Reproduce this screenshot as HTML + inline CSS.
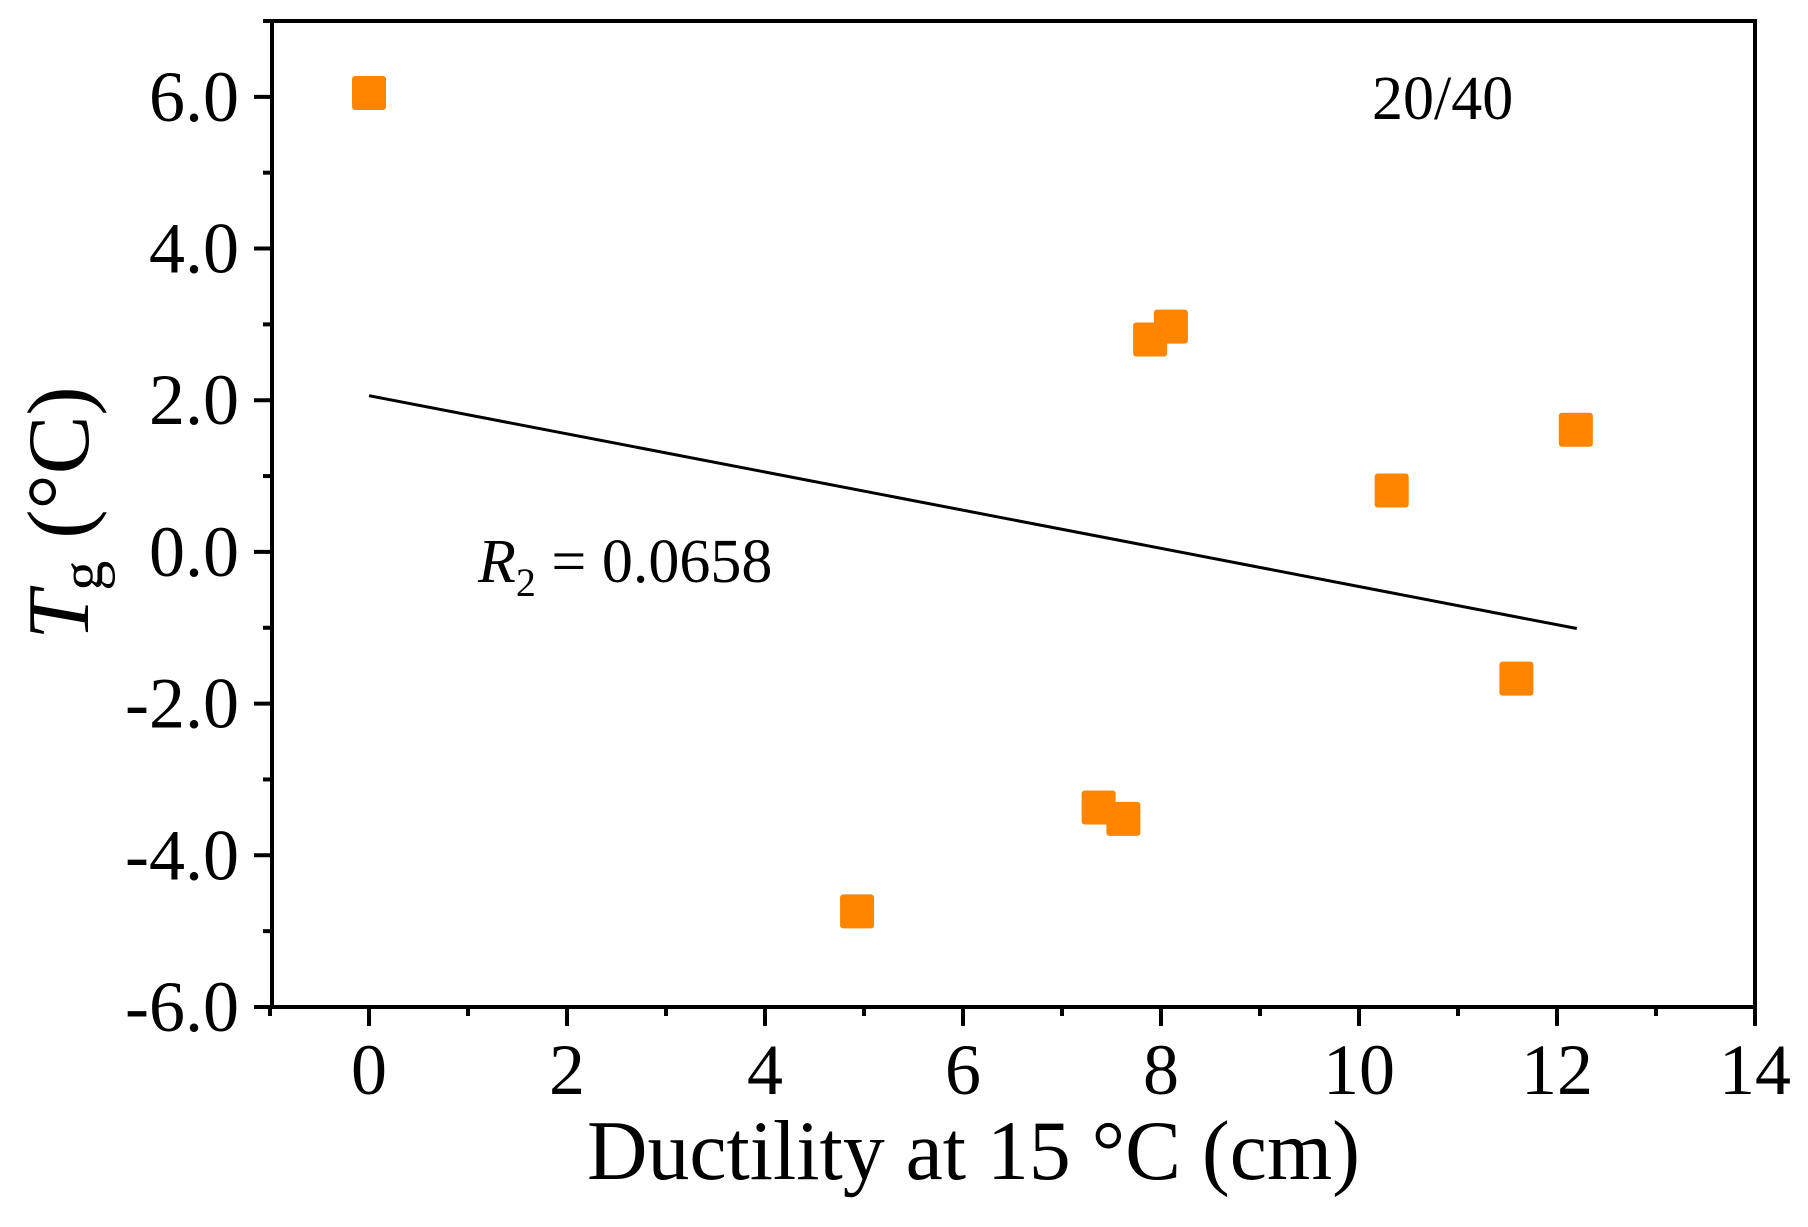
<!DOCTYPE html>
<html><head><meta charset="utf-8"><style>
html,body{margin:0;padding:0;background:#fff;}
svg text{font-family:"Liberation Serif",serif;fill:#000;}
</style></head><body>
<svg id="chart" width="1808" height="1222" viewBox="0 0 1808 1222" xmlns="http://www.w3.org/2000/svg">
<g id="marks"></g>
<g id="axes"></g>
<text x="1372" y="119" font-size="62">20/40</text>
<text x="478" y="582" font-size="62"><tspan font-style="italic">R</tspan><tspan font-size="40" dy="14">2</tspan><tspan dy="-14"> = 0.0658</tspan></text>
<text x="587" y="1179" font-size="85" textLength="773" lengthAdjust="spacingAndGlyphs">Ductility at 15 °C (cm)</text>
<text transform="translate(88,513) rotate(-90)" font-size="88" text-anchor="middle"><tspan font-style="italic">T</tspan><tspan font-size="60" dy="14">g</tspan><tspan dy="-14"> (°C)</tspan></text>
</svg>
<script>
const xValues = [0, 4.93, 7.37, 7.62, 7.89, 8.10, 10.33, 11.59, 12.19];
const yValues = [6.05, -4.74, -3.37, -3.52, 2.80, 2.97, 0.81, -1.67, 1.61];
const trendX = [0, 12.2];
const trendY = [2.06, -1.01];
const xTicks = [0, 2, 4, 6, 8, 10, 12, 14];
const yTicks = [-6, -4, -2, 0, 2, 4, 6];
const yTickLabels = ["-6.0", "-4.0", "-2.0", "0.0", "2.0", "4.0", "6.0"];

const NS = "http://www.w3.org/2000/svg";
const X0 = 272, X1 = 1755, Y0 = 1007, Y1 = 21;
const xMin = -0.98, xMax = 14, yMin = -6, yMax = 7;
function sx(v){ return X0 + (v - xMin) / (xMax - xMin) * (X1 - X0); }
function sy(v){ return Y0 - (v - yMin) / (yMax - yMin) * (Y0 - Y1); }
function mk(tag, attrs, parent){
  const e = document.createElementNS(NS, tag);
  for (const k in attrs) e.setAttribute(k, attrs[k]);
  parent.appendChild(e); return e;
}
const axes = document.getElementById('axes');
const marks = document.getElementById('marks');

const frame = mk('rect', {x:X0, y:Y1, width:X1-X0, height:Y0-Y1, fill:'none', stroke:'#000', 'stroke-width':4}, axes);



for (let v = -1; v <= 14; v++) {
  const major = v % 2 === 0;
  const t = mk('line', {x1:sx(v), x2:sx(v), y1:Y0, y2:Y0 + (major ? 19 : 9), stroke:'#000', 'stroke-width':4}, axes);
  
  
}
xTicks.forEach(v => {
  const t = mk('text', {x:sx(v), y:1094, 'font-size':72, 'text-anchor':'middle'}, axes);
  t.textContent = String(v);
  
  
});
for (let v = -6; v <= 7; v++) {
  const major = v % 2 === 0;
  const t = mk('line', {x1:X0 - (major ? 18 : 9), x2:X0, y1:sy(v), y2:sy(v), stroke:'#000', 'stroke-width':4}, axes);
  
  
}
yTicks.forEach((v, i) => {
  const t = mk('text', {x:239, y:sy(v) + 24, 'font-size':72, 'text-anchor':'end'}, axes);
  t.textContent = yTickLabels[i];
  
  
});

const line = mk('line', {x1:sx(trendX[0]), y1:sy(trendY[0]), x2:sx(trendX[1]), y2:sy(trendY[1]), stroke:'#000', 'stroke-width':3}, marks);



xValues.forEach((xv, i) => {
  const s = 34;
  const r = mk('rect', {x:sx(xv) - s/2, y:sy(yValues[i]) - s/2, width:s, height:s, rx:3, fill:'#ff8400'}, marks);
  
  
});
</script>
</body></html>
